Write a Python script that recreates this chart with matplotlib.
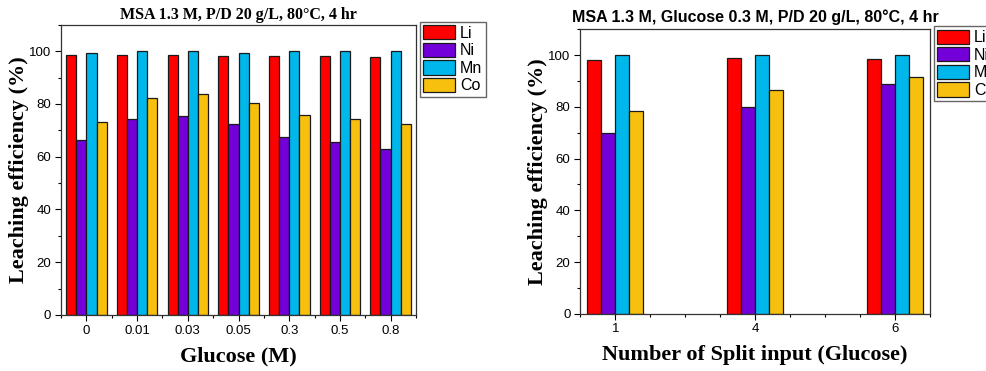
import numpy as np
import matplotlib.pyplot as plt
from matplotlib.ticker import MultipleLocator, FixedLocator

# left panel: glucose concentration
glucose = ['0', '0.01', '0.03', '0.05', '0.3', '0.5', '0.8']
li_a = [98.7, 98.5, 98.7, 98.3, 98.1, 98.1, 97.7]
ni_a = [66.5, 74.2, 75.6, 72.3, 67.6, 65.6, 63.0]
mn_a = [99.2, 100.0, 100.0, 99.2, 99.9, 99.9, 99.9]
co_a = [73.2, 82.1, 83.6, 80.4, 76.0, 74.3, 72.4]

# right panel: number of split inputs
splits = ['1', '4', '6']
li_b = [98.2, 98.8, 98.7]
ni_b = [69.8, 80.1, 88.8]
mn_b = [100.0, 100.0, 99.9]
co_b = [78.3, 86.5, 91.5]

metals = ['Li', 'Ni', 'Mn', 'Co']
colors = ['#ff0000', '#7300d8', '#00b7ec', '#f7c00f']

serif = ['Liberation Serif', 'DejaVu Serif']
sans = ['Liberation Sans', 'DejaVu Sans']
plt.rcParams['font.family'] = sans

fig = plt.figure(figsize=(9.86, 3.71), dpi=100)
ax1 = fig.add_axes([0.0619, 0.151, 0.360, 0.782])
ax2 = fig.add_axes([0.5885, 0.1544, 0.3544, 0.7666])


def draw(ax, cats, series, bw):
    x = np.arange(len(cats))
    for i, (vals, c, m) in enumerate(zip(series, colors, metals)):
        ax.bar(x + (i - 1.5) * bw, vals, bw, color=c, edgecolor='#1a1a1a',
               linewidth=0.9, label=m, zorder=2)
    ax.set_xticks(x)
    ax.set_xticklabels(cats)
    ax.set_ylim(0, 110)
    ax.yaxis.set_major_locator(FixedLocator([0, 20, 40, 60, 80, 100]))
    ax.yaxis.set_minor_locator(MultipleLocator(10))
    ax.tick_params(axis='both', which='major', direction='out', length=4,
                   width=0.8, labelsize=9.5, pad=3)
    ax.tick_params(axis='both', which='minor', direction='out', length=2.5, width=0.8)
    for s in ax.spines.values():
        s.set_linewidth(0.9)
        s.set_color('#333333')
    ax.set_ylabel('Leaching efficiency (%)', family=serif, fontweight='bold',
                  fontsize=16, labelpad=0)
    leg = ax.legend(loc='upper left', bbox_to_anchor=(1.012, 1.01), fontsize=11.5,
                    handlelength=2.0, handleheight=1.0, labelspacing=0.12,
                    handletextpad=0.3, borderpad=0.2, borderaxespad=0,
                    fancybox=False, edgecolor='#666666', framealpha=1)
    leg.get_frame().set_linewidth(1.0)
    return x


draw(ax1, glucose, [li_a, ni_a, mn_a, co_a], 0.2)
ax1.set_xlim(-0.5, 6.5)
ax1.xaxis.set_minor_locator(FixedLocator(np.arange(-0.5, 7, 1.0)))
ax1.set_xlabel('Glucose (M)', family=serif, fontweight='bold', fontsize=16, labelpad=7)
ax1.set_title('MSA 1.3 M, P/D 20 g/L, 80\u00b0C, 4 hr', family=serif,
              fontweight='bold', fontsize=11.5, pad=4)

draw(ax2, splits, [li_b, ni_b, mn_b, co_b], 0.1)
ax2.set_xlim(-0.25, 2.25)
ax2.xaxis.set_minor_locator(MultipleLocator(0.25))
ax2.set_xlabel('Number of Split input (Glucose)', family=serif, fontweight='bold',
               fontsize=16, labelpad=7)
ax2.set_title('MSA 1.3 M, Glucose 0.3 M, P/D 20 g/L, 80\u00b0C, 4 hr',
              fontweight='bold', fontsize=11.5, pad=5)

fig.savefig('out.png', dpi=100)
